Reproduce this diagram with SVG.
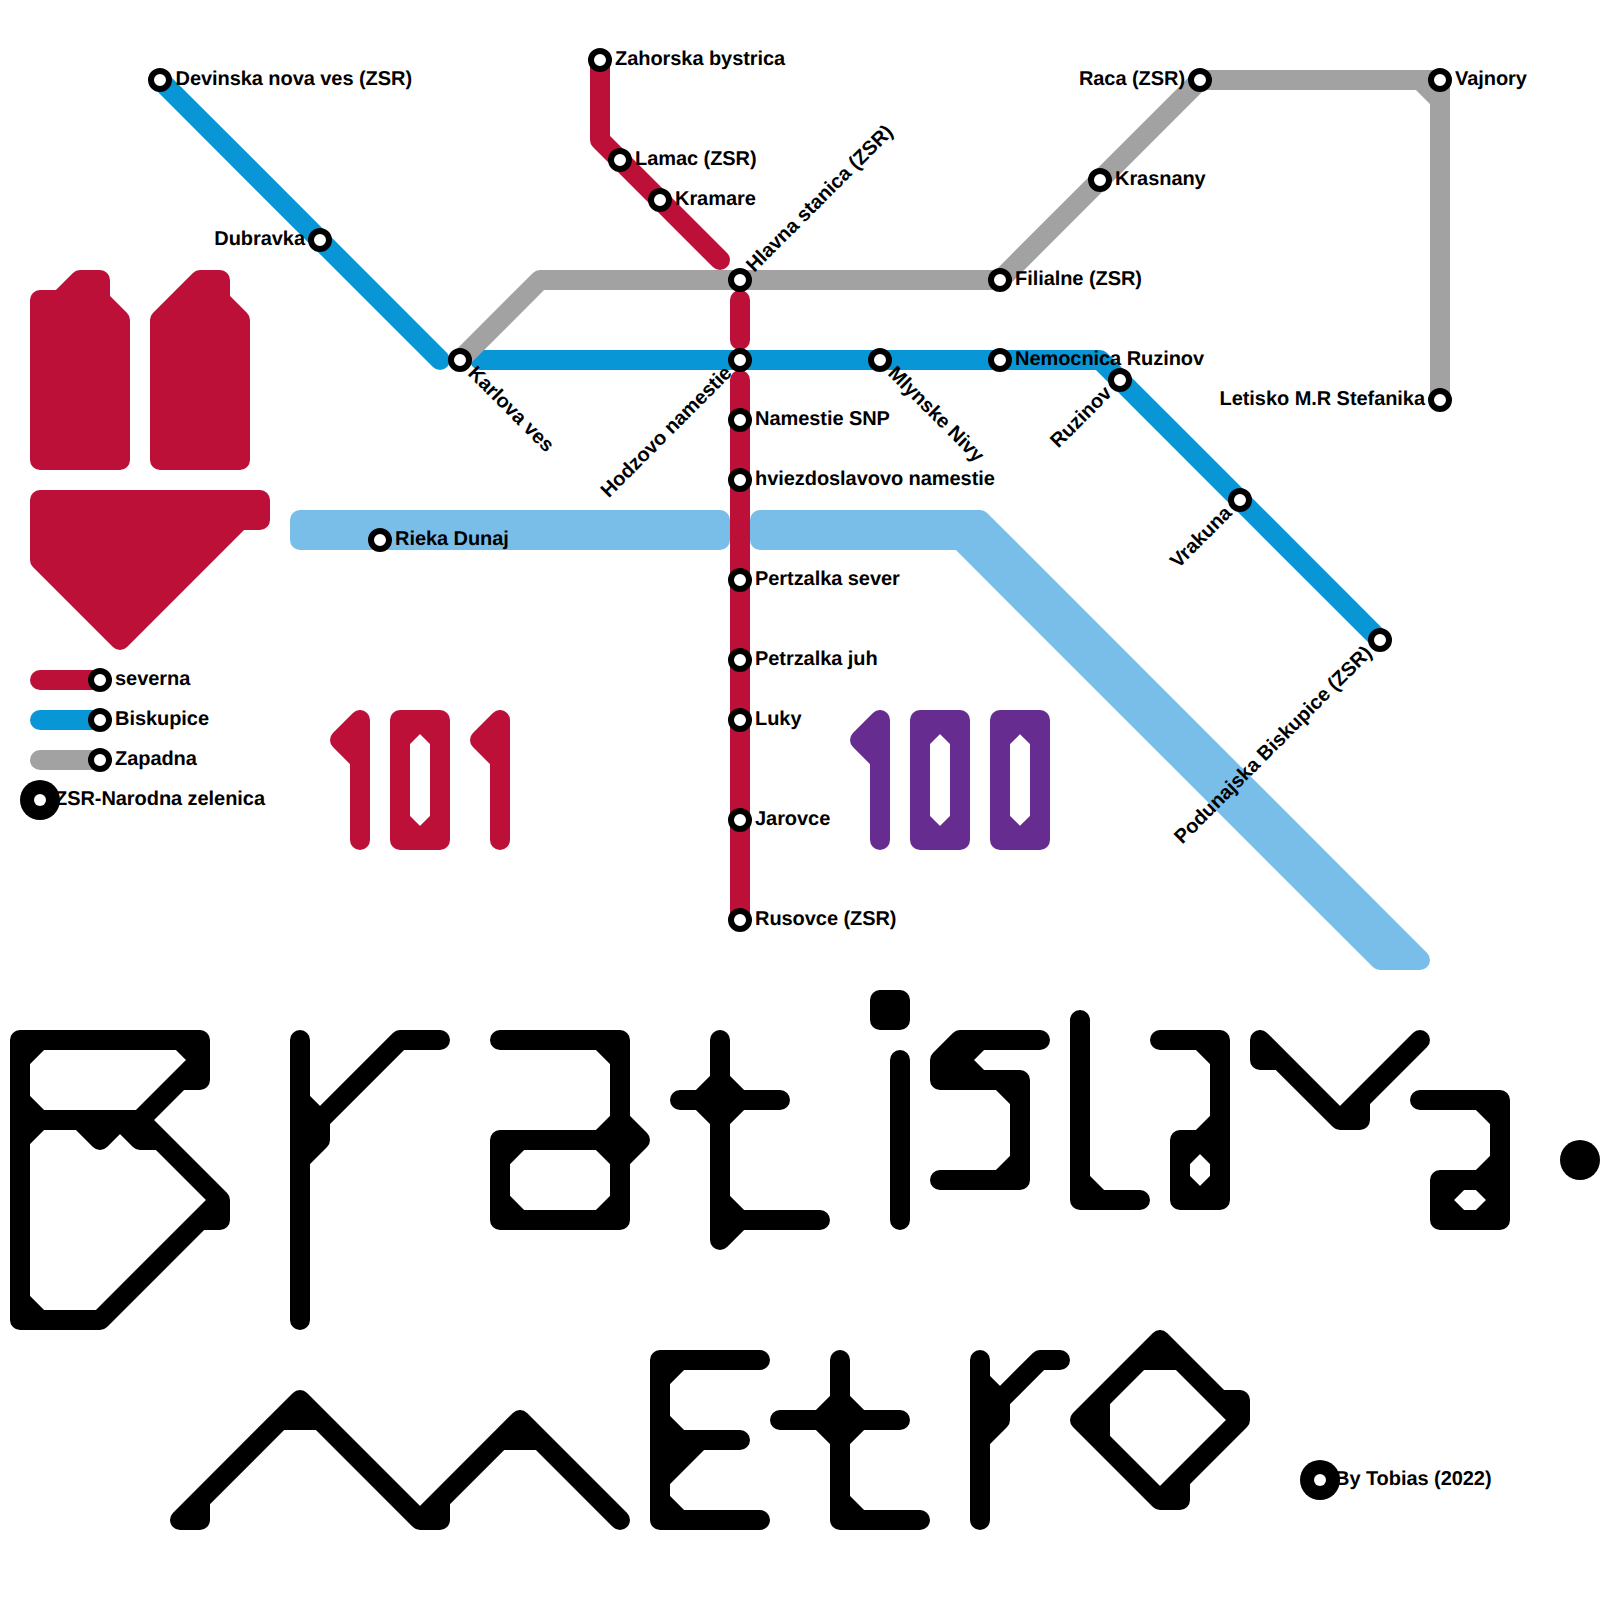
<svg xmlns="http://www.w3.org/2000/svg" width="1600" height="1600" viewBox="0 0 1600 1600">
<style>
.r{fill:none;stroke-width:20;stroke-linecap:round;stroke-linejoin:round}
.a{fill:#bd1038;stroke:#bd1038;stroke-width:20;stroke-linejoin:round}
.red{stroke:#bd1038}.blue{stroke:#0896d7}.gray{stroke:#a2a2a2}.river{stroke:#79bde9;fill:#79bde9}.pur{stroke:#662c90}.blk{stroke:#000}
.s{fill:#fff;stroke:#000;stroke-width:6}
.big{fill:#000}.dot{fill:#fff}
text{font-family:"Liberation Sans",Arial,sans-serif;font-weight:bold;font-size:20px;fill:#000;text-rendering:geometricPrecision;letter-spacing:-.06px}
.e{text-anchor:end}
</style>
<rect width="1600" height="1600" fill="#fff"/>
<g id="river">
<path class="r river" d="M300 520H720V540H300Z"/>
<path class="r river" d="M760 520H980L1420 960H1380L960 540H760Z"/>
</g>
<g id="shapes">
<path class="a" d="M40 300H60L80 280H100V300L120 320V460H40Z"/>
<path class="a" d="M160 320L200 280H220V300L240 320V460H160Z"/>
<path class="a" d="M40 500H260V520H240L120 640L40 560Z"/>
<path class="r red" d="M360 720V840M360 720L340 740L360 760M340 740H360"/>
<path class="r red" d="M400 720H440V840H400ZM400 740L420 720L440 740M400 820L420 840L440 820"/>
<path class="r red" d="M500 720V840M500 720L480 740L500 760M480 740H500"/>
<path class="r pur" d="M880 720V840M880 720L860 740L880 760M860 740H880"/>
<path class="r pur" d="M920 720H960V840H920ZM920 740L940 720L960 740M920 820L940 840L960 820"/>
<path class="r pur" d="M1000 720H1040V840H1000ZM1000 740L1020 720L1040 740M1000 820L1020 840L1040 820"/>
</g>
<g id="connectors">
<path class="r blue" d="M160 80L440 360"/>
<path class="r blue" d="M480 360H1100L1380 640"/>
<path class="r gray" d="M460 360L540 280H1000L1200 80H1440V400M1420 80L1440 100"/>
<path class="r red" d="M600 60V140L720 260"/>
<path class="r red" d="M740 300V340"/>
<path class="r red" d="M740 380V920"/>
<path class="r red" d="M40 680H100"/>
<path class="r blue" d="M40 720H100"/>
<path class="r gray" d="M40 760H100"/>
</g>
<g id="title">
<path id="t-B" class="r blk" d="M20 1040H200V1080H180L140 1120M180 1040L200 1060L180 1080M40 1040L20 1060M20 1040V1320H100L220 1200V1220H200M20 1120H140L220 1200M40 1120L20 1100M40 1120L20 1140M20 1300L40 1320M80 1120L100 1140L120 1120M100 1120V1140M120 1120L140 1140H160M140 1120V1140"/>
<path id="t-r" class="r blk" d="M300 1040V1320M440 1040H400L320 1120V1140L300 1160M300 1100L320 1120H300L320 1140H300M300 1140L320 1120"/>
<path id="t-a" class="r blk" d="M500 1040H620V1220H500V1140H640M600 1040L620 1060M600 1140L620 1120L640 1140L620 1160L600 1140M500 1160L520 1140M500 1200L520 1220M600 1220L620 1200"/>
<path id="t-t" class="r blk" d="M720 1040V1240M680 1100H780M700 1100L720 1080L740 1100L720 1120L700 1100M720 1200L740 1220M720 1220H820M720 1240L740 1220"/>
<path id="t-i" class="r blk" d="M880 1000H900V1020H880ZM880 1000L900 1020M900 1000L880 1020M900 1060V1220"/>
<path id="t-s" class="r blk" d="M1040 1040H960L940 1060V1080H1020V1180H940M960 1040V1080M940 1060H960L980 1040M960 1060L980 1080M960 1060L940 1080M960 1080L940 1060M1000 1080L1020 1100M1000 1180L1020 1160"/>
<path id="t-l" class="r blk" d="M1080 1020V1200H1140M1080 1180L1100 1200"/>
<path id="t-a2" class="r blk" d="M1160 1040H1220V1200H1180V1140H1220M1200 1040L1220 1060M1200 1140L1220 1120M1200 1140L1180 1160M1200 1140L1220 1160M1200 1200L1180 1180M1200 1200L1220 1180"/>
<path id="t-v" class="r blk" d="M1260 1040V1060H1280M1260 1040L1340 1120H1360V1100M1340 1120L1420 1040"/>
<path id="t-a3" class="r blk" d="M1420 1100H1500V1220H1440V1180H1500M1480 1100L1500 1120M1480 1180L1500 1160M1460 1180L1440 1200L1460 1220M1480 1180L1500 1200L1480 1220"/>
<circle id="t-dot" cx="1580" cy="1160" r="20" fill="#000"/>
<path id="t-m" class="r blk" d="M180 1520H200V1500M180 1520L300 1400L420 1520H440V1500M420 1520L520 1420L620 1520M280 1420H320M300 1400V1420M500 1440H540M520 1420V1440"/>
<path id="t-e" class="r blk" d="M760 1360H660V1520H760M660 1440H740M700 1440L660 1480M660 1460H680M660 1420L680 1440M660 1380L680 1360M660 1500L680 1520"/>
<path id="t-t2" class="r blk" d="M840 1360V1520H920M780 1420H900M820 1420L840 1400L860 1420L840 1440L820 1420M840 1500L860 1520"/>
<path id="t-r2" class="r blk" d="M980 1360V1520M1060 1360H1040L1000 1400V1420L980 1440M980 1380L1000 1400H980L1000 1420H980M980 1420L1000 1400"/>
<path id="t-o" class="r blk" d="M1080 1420L1160 1340L1240 1420L1160 1500ZM1140 1360H1180M1160 1340V1360M1080 1420H1100M1100 1400V1440M1220 1400H1240V1420M1160 1500H1180V1480"/>
</g>
<g id="n-devinska"><circle class="s" cx="160" cy="80" r="9"/><text x="175.500" y="85">Devinska nova ves (ZSR)</text></g>
<g id="n-dubravka"><circle class="s" cx="320" cy="240" r="9"/><text class="e" x="305" y="245">Dubravka</text></g>
<g id="n-karlova"><circle class="s" cx="460" cy="360" r="9"/><text transform="translate(460 360) rotate(45)" x="15" y="5">Karlova ves</text></g>
<g id="n-zahorska"><circle class="s" cx="600" cy="60" r="9"/><text x="615" y="65">Zahorska bystrica</text></g>
<g id="n-lamac"><circle class="s" cx="620" cy="160" r="9"/><text x="635" y="165">Lamac (ZSR)</text></g>
<g id="n-kramare"><circle class="s" cx="660" cy="200" r="9"/><text x="675" y="205">Kramare</text></g>
<g id="n-hlavna"><circle class="s" cx="740" cy="280" r="9"/><text transform="translate(740 280) rotate(-45)" x="15" y="5">Hlavna stanica (ZSR)</text></g>
<g id="n-hodzovo"><circle class="s" cx="740" cy="360" r="9"/><text class="e" transform="translate(740 360) rotate(-45)" x="-15" y="5">Hodzovo namestie</text></g>
<g id="n-snp"><circle class="s" cx="740" cy="420" r="9"/><text x="755" y="425">Namestie SNP</text></g>
<g id="n-hviezdo"><circle class="s" cx="740" cy="480" r="9"/><text x="755" y="485">hviezdoslavovo namestie</text></g>
<g id="n-psever"><circle class="s" cx="740" cy="580" r="9"/><text x="755" y="585">Pertzalka sever</text></g>
<g id="n-pjuh"><circle class="s" cx="740" cy="660" r="9"/><text x="755" y="665">Petrzalka juh</text></g>
<g id="n-luky"><circle class="s" cx="740" cy="720" r="9"/><text x="755" y="725">Luky</text></g>
<g id="n-jarovce"><circle class="s" cx="740" cy="820" r="9"/><text x="755" y="825">Jarovce</text></g>
<g id="n-rusovce"><circle class="s" cx="740" cy="920" r="9"/><text x="755" y="925">Rusovce (ZSR)</text></g>
<g id="n-mlynske"><circle class="s" cx="880" cy="360" r="9"/><text transform="translate(880 360) rotate(45)" x="15" y="5">Mlynske Nivy</text></g>
<g id="n-nemocnica"><circle class="s" cx="1000" cy="360" r="9"/><text x="1015" y="365">Nemocnica Ruzinov</text></g>
<g id="n-filialne"><circle class="s" cx="1000" cy="280" r="9"/><text x="1015" y="285">Filialne (ZSR)</text></g>
<g id="n-krasnany"><circle class="s" cx="1100" cy="180" r="9"/><text x="1115" y="185">Krasnany</text></g>
<g id="n-raca"><circle class="s" cx="1200" cy="80" r="9"/><text class="e" x="1185" y="85">Raca (ZSR)</text></g>
<g id="n-vajnory"><circle class="s" cx="1440" cy="80" r="9"/><text x="1455" y="85">Vajnory</text></g>
<g id="n-letisko"><circle class="s" cx="1440" cy="400" r="9"/><text class="e" x="1425" y="405">Letisko M.R Stefanika</text></g>
<g id="n-ruzinov"><circle class="s" cx="1120" cy="380" r="9"/><text class="e" transform="translate(1120 380) rotate(-45)" x="-15" y="5">Ruzinov</text></g>
<g id="n-vrakuna"><circle class="s" cx="1240" cy="500" r="9"/><text class="e" transform="translate(1240 500) rotate(-45)" x="-15" y="5">Vrakuna</text></g>
<g id="n-podunajska"><circle class="s" cx="1380" cy="640" r="9"/><text class="e" transform="translate(1380 640) rotate(-45)" x="-15" y="5">Podunajska Biskupice (ZSR)</text></g>
<g id="n-rieka"><circle class="s" cx="380" cy="540" r="9"/><text x="395" y="545">Rieka Dunaj</text></g>
<g id="l-severna"><circle class="s" cx="100" cy="680" r="9"/><text x="115" y="685">severna</text></g>
<g id="l-biskupice"><circle class="s" cx="100" cy="720" r="9"/><text x="115" y="725">Biskupice</text></g>
<g id="l-zapadna"><circle class="s" cx="100" cy="760" r="9"/><text x="115" y="765">Zapadna</text></g>
<g id="l-zsr"><circle class="big" cx="40" cy="800" r="20"/><circle class="dot" cx="40" cy="800" r="6"/><text x="55" y="805">ZSR-Narodna zelenica</text></g>
<g id="l-by"><circle class="big" cx="1320" cy="1480" r="20"/><circle class="dot" cx="1320" cy="1480" r="6"/><text x="1335" y="1485">By Tobias (2022)</text></g>
</svg>
